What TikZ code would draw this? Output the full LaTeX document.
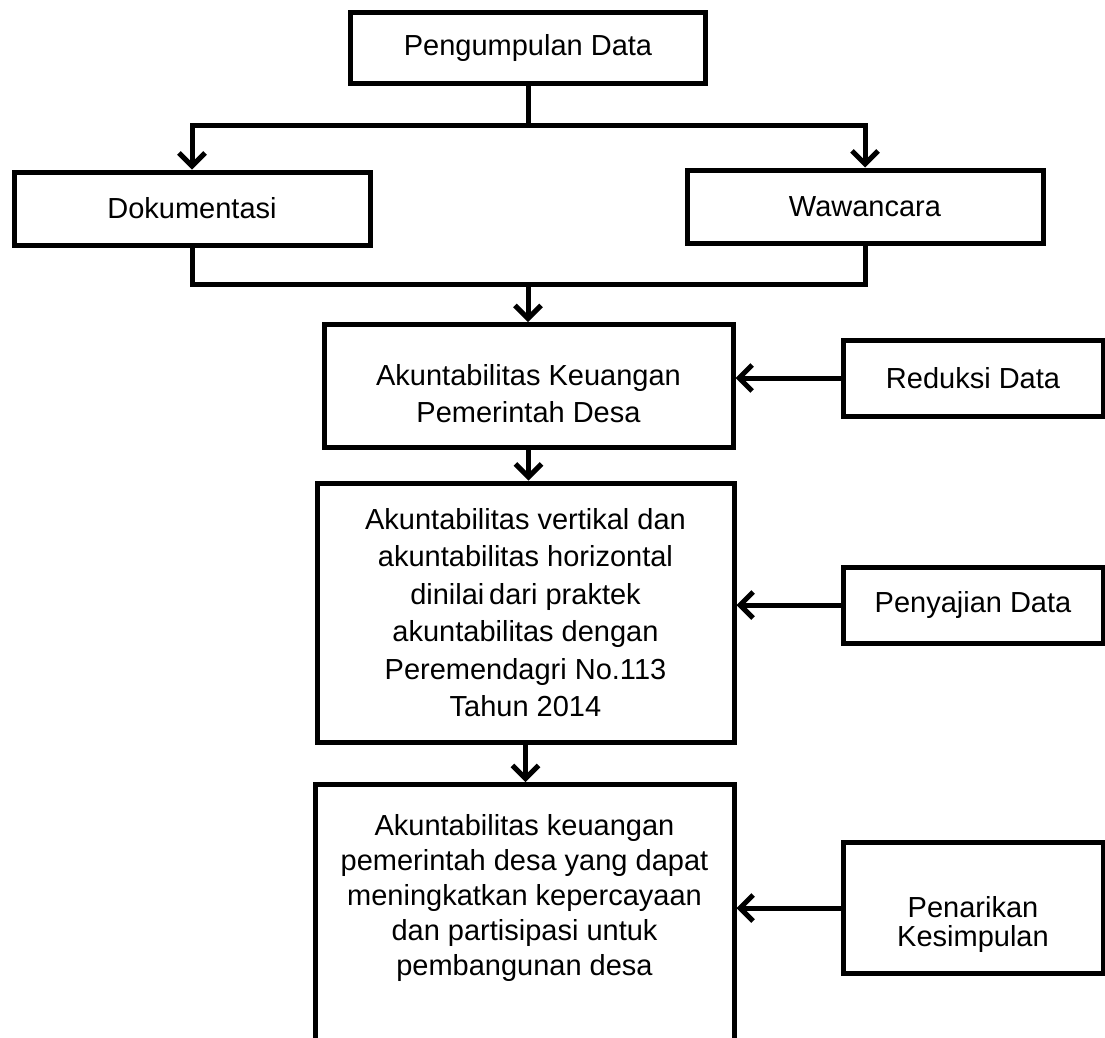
\documentclass[tikz,border=0pt]{standalone}
\usepackage{fontspec}
\setmainfont{Liberation Sans}
\usetikzlibrary{positioning, arrows.meta}
\newcommand{\flowfont}{\fontsize{29}{37}\selectfont}

\begin{document}
\begin{tikzpicture}[
  x=1pt, y=-1pt,
  stage/.style={draw, line width=5pt, align=center, font=\flowfont, inner sep=0pt},
  wire/.style={line width=5pt},
  flow/.style={line width=5pt, -{Straight Barb[length=13pt, width=26pt]}},
]
  \clip (0,0) rectangle (1105,1037);
  % data sources
  \node[stage, minimum width=355pt, minimum height=71pt] (kumpul) at (528,47.5) {Pengumpulan Data};
  \node[stage, minimum width=356pt, minimum height=73pt] (dokumen) at (192,208.5) {Dokumentasi};
  \node[stage, minimum width=356pt, minimum height=73pt] (wawancara) at (865,206.5) {Wawancara};
  % main column
  \node[stage, anchor=north, minimum width=409pt, text height=61pt, text depth=62pt] (akun) at (528.5,322)
    {\begin{tabular}[t]{@{}c@{}}Akuntabilitas Keuangan\\Pemerintah Desa\end{tabular}};
  \node[stage, minimum width=417pt, minimum height=259pt, font={\fontsize{29}{37.5}\selectfont}] (vertikal) at (525.5,612.5)
    {Akuntabilitas vertikal dan\\akuntabilitas horizontal\\dinilai\,dari praktek\\akuntabilitas dengan\\Peremendagri No.113\\Tahun 2014};
  \node[stage, anchor=north, minimum width=419pt, text height=51pt, text depth=300pt, font={\fontsize{29}{35}\selectfont}] (hasil) at (524.5,782)
    {\begin{tabular}[t]{@{}c@{}}Akuntabilitas keuangan\\pemerintah desa yang dapat\\meningkatkan kepercayaan\\dan partisipasi untuk\\pembangunan desa\end{tabular}};
  % analysis steps
  \node[stage, minimum width=260pt, minimum height=76pt] (reduksi) at (973,378) {Reduksi Data};
  \node[stage, minimum width=260pt, minimum height=76pt] (sajian) at (973,605) {Penyajian Data};
  \node[stage, anchor=north, minimum width=260pt, text height=75pt, text depth=56pt, font={\fontsize{29}{28}\selectfont}] (tarik) at (973,840)
    {\begin{tabular}[t]{@{}c@{}}Penarikan\\Kesimpulan\end{tabular}};

  \coordinate (fork) at (528,125);
  \coordinate (join) at (528,284);
  \draw[wire] (kumpul.south) -- (fork);
  \draw[flow] (fork) -| (dokumen.north);
  \draw[flow] (fork) -| (wawancara.north);
  \draw[wire] (dokumen.south) |- (join) -| (wawancara.south);
  \draw[flow] (join) -- (join |- akun.north);
  \draw[flow] (akun.south) -- (akun.south |- vertikal.north);
  \draw[flow] (vertikal.south) -- (vertikal.south |- hasil.north);
  \draw[flow] (reduksi.west) -- (reduksi.west -| akun.east);
  \draw[flow] (sajian.west) -- (sajian.west -| vertikal.east);
  \draw[flow] (tarik.west) -- (tarik.west -| hasil.east);
\end{tikzpicture}
\end{document}
